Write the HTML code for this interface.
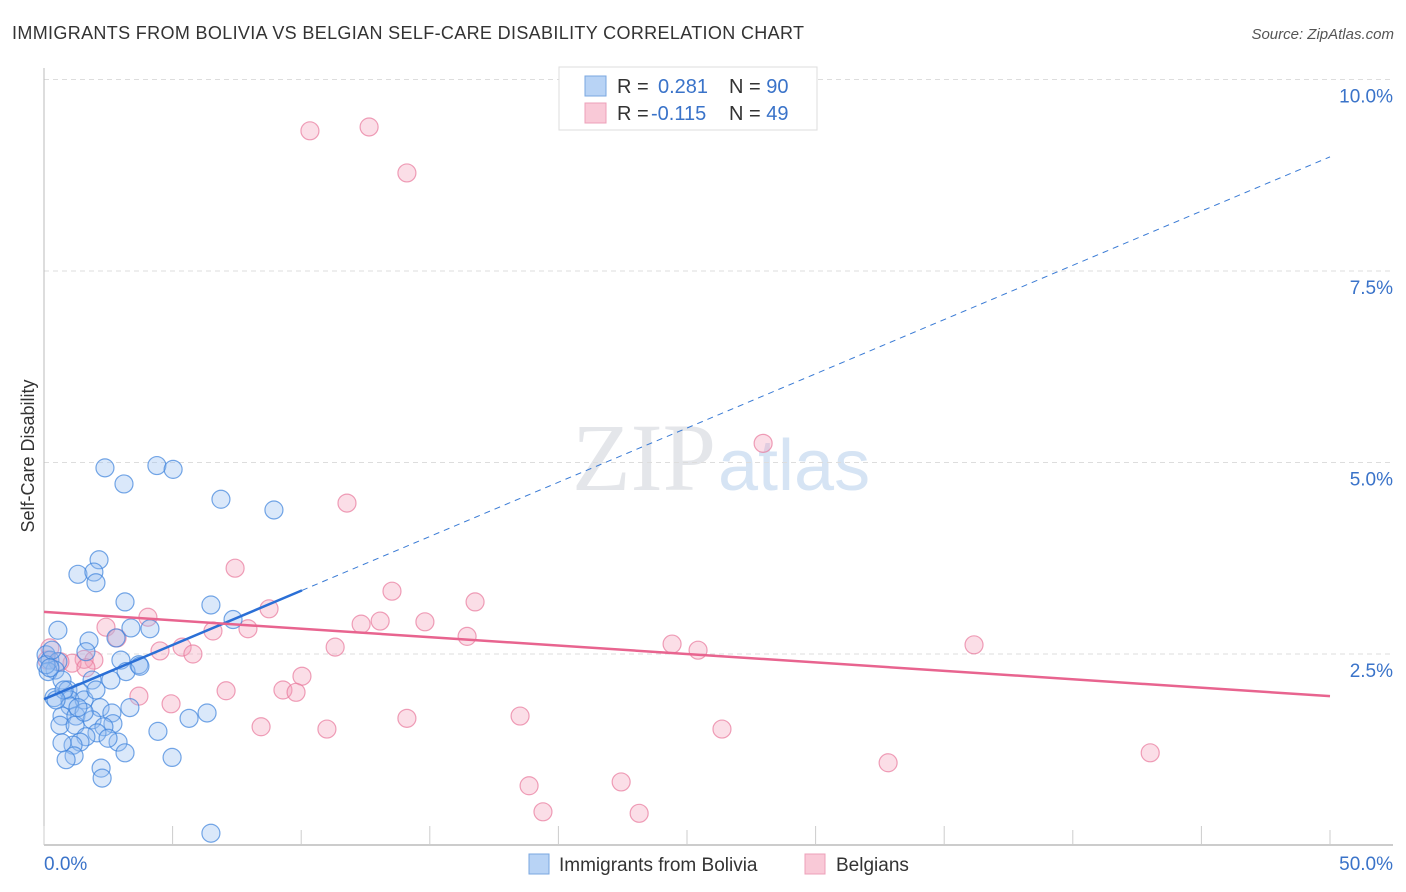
<!DOCTYPE html>
<html><head><meta charset="utf-8"><style>
body{margin:0;background:#fff;width:1406px;height:892px;overflow:hidden;font-family:"Liberation Sans",sans-serif}
svg{position:absolute;left:0;top:0}
</style></head><body>
<svg id="chart" width="1406" height="892" xmlns="http://www.w3.org/2000/svg">
<text x="12" y="39" font-size="18" fill="#333" textLength="792" lengthAdjust="spacing">IMMIGRANTS FROM BOLIVIA VS BELGIAN SELF-CARE DISABILITY CORRELATION CHART</text>
<text x="1394" y="39" font-size="15" fill="#555" font-style="italic" text-anchor="end">Source: ZipAtlas.com</text>
<text x="716" y="490" font-size="96" fill="#e4e6ea" text-anchor="end" font-family="Liberation Serif,serif">ZIP</text>
<text x="718" y="490" font-size="72" fill="#d6e4f4">atlas</text>
<text transform="translate(34,456) rotate(-90)" font-size="18" fill="#333" text-anchor="middle">Self-Care Disability</text>
<g id="grid"></g><g id="marks"></g><g id="trends"></g>
<g>
<rect x="559" y="67" width="258" height="63" fill="#fff" stroke="#ddd"/>
<rect x="585" y="76" width="21" height="20" fill="#b8d3f5" stroke="#7aa7e0"/>
<rect x="585" y="103" width="21" height="20" fill="#f9c9d7" stroke="#eda0b8"/>
<text x="617" y="93" font-size="20" fill="#333">R = <tspan x="658" fill="#3a73c9">0.281</tspan><tspan x="729" fill="#333">N = </tspan><tspan fill="#3a73c9">90</tspan></text>
<text x="617" y="120" font-size="20" fill="#333">R = <tspan x="651" fill="#3a73c9">-0.115</tspan><tspan x="729" fill="#333">N = </tspan><tspan fill="#3a73c9">49</tspan></text>
</g>
<g>
<rect x="529" y="854" width="20" height="20" fill="#b8d3f5" stroke="#7aa7e0"/>
<text x="559" y="871" font-size="19" fill="#333">Immigrants from Bolivia</text>
<rect x="805" y="854" width="20" height="20" fill="#f9c9d7" stroke="#eda0b8"/>
<text x="836" y="871" font-size="19" fill="#333">Belgians</text>
</g>
</svg>
<script>
const yTicks=[2.5,5.0,7.5,10.0];
const yTickLabels=["2.5%","5.0%","7.5%","10.0%"];
const xTickLabels=["0.0%","50.0%"];
const blueX=[2.37,4.39,5.02,3.11,6.88,8.94,2.14,1.32,1.94,2.02,3.15,6.49,7.35,4.12,3.38,0.54,2.80,1.75,1.63,0.08,0.23,0.54,2.99,3.69,3.19,2.60,1.87,0.43,0.16,0.70,0.93,1.40,0.39,1.01,1.56,2.18,3.34,2.64,1.01,0.70,1.24,0.62,1.21,1.87,2.68,2.33,2.06,1.63,1.40,2.88,1.13,0.70,1.17,3.15,2.22,2.26,4.43,4.98,5.64,6.34,6.49,0.08,0.31,0.78,2.02,1.56,2.49,0.86,3.73,0.23,0.47,1.32];
const blueY=[4.93,4.96,4.91,4.72,4.52,4.38,3.73,3.54,3.57,3.43,3.18,3.14,2.95,2.83,2.84,2.81,2.71,2.67,2.53,2.49,2.42,2.40,2.42,2.36,2.27,2.16,2.16,2.29,2.27,2.16,2.03,2.00,1.93,1.90,1.90,1.80,1.80,1.73,1.82,1.69,1.69,1.57,1.57,1.64,1.59,1.55,1.47,1.42,1.35,1.35,1.31,1.34,1.17,1.21,1.01,0.88,1.49,1.15,1.66,1.73,0.16,2.36,2.55,2.03,2.03,1.74,1.40,1.12,2.34,2.32,1.90,1.80];
const pinkX=[10.34,12.64,14.11,27.96,11.78,7.43,13.53,16.76,8.75,4.04,13.07,12.33,14.81,2.41,6.57,7.93,2.84,24.42,25.43,36.16,16.45,11.32,5.37,4.51,5.79,0.23,1.94,1.56,1.09,10.03,9.29,9.80,7.08,3.69,4.94,14.11,18.51,8.44,11.00,26.36,32.82,43.01,18.86,22.44,19.40,23.14,0.12,0.62,1.63];
const pinkY=[9.33,9.38,8.78,5.25,4.47,3.62,3.32,3.18,3.09,2.98,2.93,2.89,2.92,2.85,2.80,2.83,2.71,2.63,2.55,2.62,2.73,2.59,2.59,2.54,2.50,2.58,2.42,2.43,2.38,2.21,2.03,2.00,2.02,1.95,1.85,1.66,1.69,1.55,1.52,1.52,1.08,1.21,0.78,0.83,0.44,0.42,2.42,2.40,2.32];
const blueTrend=[1.91,8.99];
const pinkTrend=[3.05,1.95];
const blueSolidEnd=10.03;
const NS="http://www.w3.org/2000/svg";
const xS=v=>44+v/50*1286;
const yS=v=>845.5-v*76.6;
function mk(tag,attrs,parent){const e=document.createElementNS(NS,tag);for(const k in attrs)e.setAttribute(k,attrs[k]);document.getElementById(parent).appendChild(e);return e;}
let e;
yTicks.forEach((t,i)=>{
 e=mk('line',{x1:44,x2:1393,y1:yS(t),y2:yS(t),stroke:'#ddd','stroke-dasharray':'5,4'},'grid');
 
 
 e=mk('text',{x:1393,y:yS(t)+23,'font-size':19,fill:'#3a73c9','text-anchor':'end'},'grid');
 e.textContent=yTickLabels[i];
 
 
});
e=mk('line',{x1:44,x2:44,y1:68,y2:845,stroke:'#bbb'},'grid');


e=mk('line',{x1:44,x2:1393,y1:845,y2:845,stroke:'#bbb','stroke-width':1.5},'grid');


for(let i=0;i<=10;i++){
 const tall=(i%3===2)||i===10;
 e=mk('line',{x1:xS(i*5),x2:xS(i*5),y1:tall?830:826,y2:845,stroke:'#ccc'},'grid');
 
 
}
[[0,'start',44],[50,'end',1393]].forEach((p,i)=>{
 e=mk('text',{x:p[2],y:870,'font-size':19,fill:'#3a73c9','text-anchor':p[1]},'grid');
 e.textContent=xTickLabels[i];
 
 
});
pinkX.forEach((x,i)=>{
 e=mk('circle',{cx:xS(x),cy:yS(pinkY[i]),r:9,fill:'rgba(244,160,186,0.35)',stroke:'rgba(232,120,155,0.7)','stroke-width':1.2},'marks');
 
 
});
blueX.forEach((x,i)=>{
 e=mk('circle',{cx:xS(x),cy:yS(blueY[i]),r:9,fill:'rgba(150,190,240,0.35)',stroke:'rgba(60,130,220,0.7)','stroke-width':1.2},'marks');
 
 
});
const bY=x=>blueTrend[0]+(blueTrend[1]-blueTrend[0])*x/50;
e=mk('line',{x1:xS(blueSolidEnd),y1:yS(bY(blueSolidEnd)),x2:xS(50),y2:yS(bY(50)),stroke:'#3a7bd5','stroke-width':1,'stroke-dasharray':'6,5'},'trends');


e=mk('line',{x1:xS(0),y1:yS(bY(0)),x2:xS(blueSolidEnd),y2:yS(bY(blueSolidEnd)),stroke:'#2a6fd6','stroke-width':2.5},'trends');


e=mk('line',{x1:xS(0),y1:yS(pinkTrend[0]),x2:xS(50),y2:yS(pinkTrend[1]),stroke:'#e8648f','stroke-width':2.5},'trends');


</script>
</body></html>
